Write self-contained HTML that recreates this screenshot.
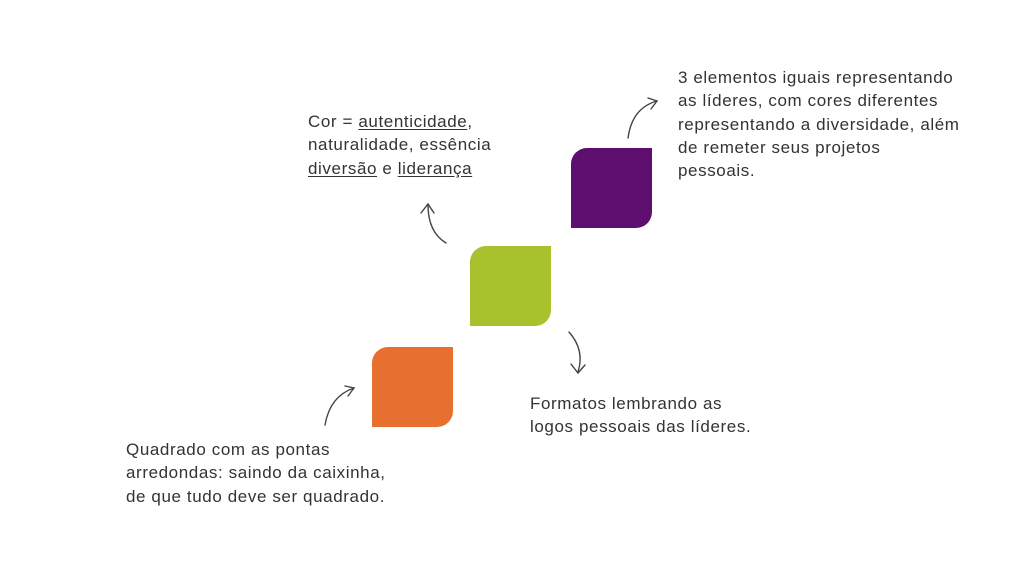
<!DOCTYPE html>
<html><head><meta charset="utf-8"><style>
html,body{margin:0;padding:0;background:#fff;}
body{width:1024px;height:576px;position:relative;overflow:hidden;font-family:"Liberation Sans",sans-serif;color:#333;}
.t{position:absolute;font-size:17px;letter-spacing:0.6px;line-height:23.3px;white-space:nowrap;}
u{text-decoration:underline;text-underline-offset:2px;}
.sq{position:absolute;width:81px;height:80px;border-radius:16px 0 16px 0;}
</style></head><body>
<div class="sq" style="left:571px;top:148px;background:#5e0e6e"></div>
<div class="sq" style="left:470px;top:246px;background:#a8c22e"></div>
<div class="sq" style="left:372px;top:347px;background:#e8702e"></div>

<div class="t" style="left:308px;top:110px">Cor = <u>autenticidade</u>,<br>naturalidade, essência<br><u>diversão</u> e <u>liderança</u></div>
<div class="t" style="left:678px;top:66px">3 elementos iguais representando<br>as líderes, com cores diferentes<br>representando a diversidade, além<br>de remeter seus projetos<br>pessoais.</div>
<div class="t" style="left:530px;top:392px">Formatos lembrando as<br>logos pessoais das líderes.</div>
<div class="t" style="left:126px;top:438px">Quadrado com as pontas<br>arredondas: saindo da caixinha,<br>de que tudo deve ser quadrado.</div>

<svg width="1024" height="576" style="position:absolute;left:0;top:0" fill="none" stroke="#444" stroke-width="1.4" stroke-linecap="round">
<path d="M446 243 Q428 232 428 205"/><path d="M421 213 L428 204 L434 213"/>
<path d="M628 138 Q632 108 657 101"/><path d="M648 98 L657 101 L651 109"/>
<path d="M569 332 Q585 350 578 372"/><path d="M571 364 L578 373 L585 365"/>
<path d="M325 425 Q330 396 354 388"/><path d="M345 386 L354 388 L348 396"/>
</svg>
</body></html>
